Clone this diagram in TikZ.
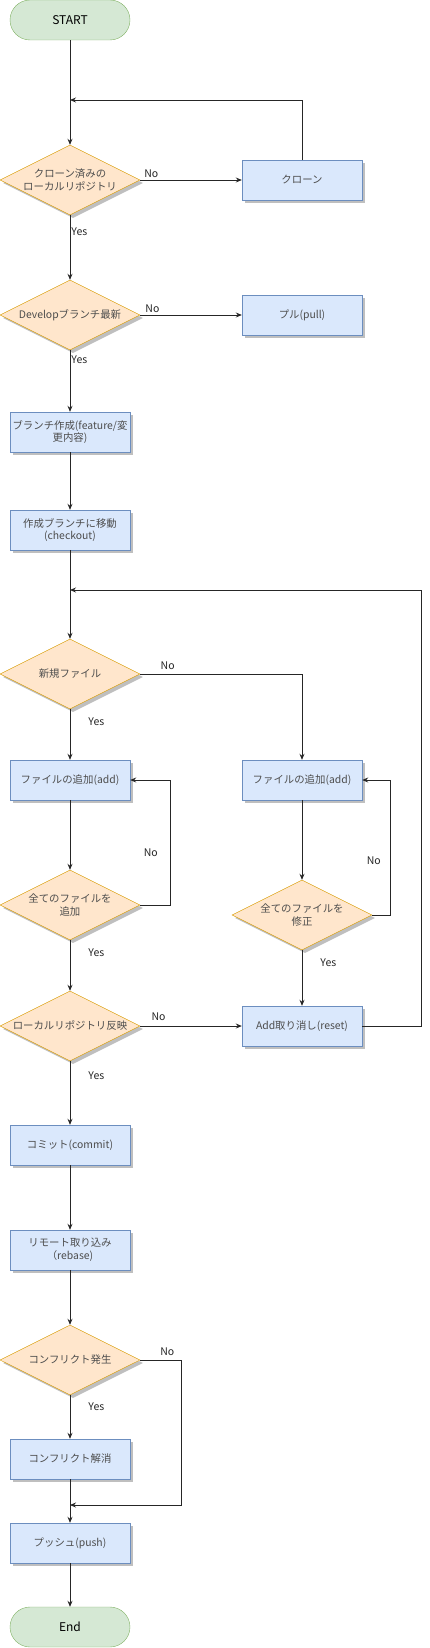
\documentclass[tikz,border=0pt]{standalone}
\usepackage{fontspec}
\setmainfont{Noto Sans CJK JP}
\usepackage{tikz}
\usetikzlibrary{arrows.meta,shapes.geometric,shadows}
\definecolor{termfill}{HTML}{D5E8D4}
\definecolor{termdraw}{HTML}{82B366}
\definecolor{procfill}{HTML}{DAE8FC}
\definecolor{procdraw}{HTML}{6C8EBF}
\definecolor{decfill}{HTML}{FFE6CC}
\definecolor{decdraw}{HTML}{D79B00}
\definecolor{txtgray}{HTML}{4D4D4D}
\tikzset{
    terminal/.style={draw=termdraw, fill=termfill, rounded corners=20pt,
        minimum width=120pt, minimum height=40pt, inner sep=0pt,
        font=\fontsize{12pt}{14pt}\selectfont},
    process/.style={draw=procdraw, fill=procfill, minimum width=120pt,
        minimum height=40pt, inner sep=1pt, align=center, text=txtgray,
        font=\fontsize{10.4pt}{12.5pt}\selectfont,
        drop shadow={shadow xshift=3pt, shadow yshift=-3pt, fill=black!25, opacity=1}},
    decision/.style={diamond, draw=decdraw, fill=decfill, minimum width=140pt,
        minimum height=70pt, inner sep=0pt,
        drop shadow={shadow xshift=3pt, shadow yshift=-3pt, fill=black!25, opacity=1}},
    dectext/.style={align=center, text=txtgray, inner sep=0pt,
        font=\fontsize{10.4pt}{12.5pt}\selectfont},
    flow/.style={draw=black!85, line width=0.9pt, -{Stealth[length=6pt,width=5pt]}},
    lbl/.style={inner sep=1pt, text=black!85, font=\fontsize{10.5pt}{12.5pt}\selectfont},
}
\begin{document}
\begin{tikzpicture}[x=1pt, y=-1pt]
		\useasboundingbox (0,0) rectangle (429,1648);
		% nodes
		\node[terminal] (start) at (70,20) {START};
		\node[decision, label={[dectext]center:クローン済みの\\ローカルリポジトリ}] (cloned) at (70,180) {};
		\node[process] (clone) at (302,180) {クローン};
		\node[decision, label={[dectext]center:Developブランチ最新}] (latest) at (70,315) {};
		\node[process] (pull) at (302,315) {プル(pull)};
		\node[process] (branch) at (70,432) {ブランチ作成(feature/変\\更内容)};
		\node[process] (checkout) at (70,530) {作成ブランチに移動\\(checkout)};
		\node[decision, label={[dectext]center:新規ファイル}] (newfile) at (70,674) {};
		\node[process] (addL) at (70,780) {ファイルの追加(add)};
		\node[process] (addR) at (302,780) {ファイルの追加(add)};
		\node[decision, label={[dectext]center:全てのファイルを\\追加}] (alladd) at (70,905) {};
		\node[decision, label={[dectext]center:全てのファイルを\\修正}] (allmod) at (302,915) {};
		\node[decision, label={[dectext]center:ローカルリポジトリ反映}] (local) at (70,1026) {};
		\node[process] (reset) at (302,1026) {Add取り消し(reset)};
		\node[process] (commit) at (70,1145) {コミット(commit)};
		\node[process] (rebase) at (70,1250) {リモート取り込み\\（rebase)};
		\node[decision, label={[dectext]center:コンフリクト発生}] (conflict) at (70,1360) {};
		\node[process] (resolve) at (70,1459) {コンフリクト解消};
		\node[process] (push) at (70,1543) {プッシュ(push)};
		\node[terminal] (end) at (70,1627) {End};
		%
		\coordinate (j1) at (70,100);
		\coordinate (j2) at (70,590);
		\coordinate (j3) at (70,1505);
		% connectors
		\draw[flow] (start) -- (cloned);
		\draw[flow] (cloned.east) -- node[lbl, pos=0.11, above=1pt] {No} (clone.west);
		\draw[flow] (clone.north) |- (j1);
		\draw[flow] (cloned.south) -- node[lbl, pos=0.25, right] {Yes} (latest.north);
		\draw[flow] (latest.east) -- node[lbl, pos=0.12, above=1pt] {No} (pull.west);
		\draw[flow] (latest.south) -- node[lbl, pos=0.16, right] {Yes} (branch.north);
		\draw[flow] (branch) -- (checkout);
		\draw[flow] (checkout) -- (newfile);
		\draw[flow] (newfile.east) -| node[lbl, pos=0.085, above=3pt] {No} (addR.north);
		\draw[flow] (newfile.south) -- node[lbl, pos=0.25, right=17pt] {Yes} (addL.north);
		\draw[flow] (addL) -- (alladd);
		\draw[flow] (alladd.east) -- ++(30,0) |- node[lbl, pos=0.21, left=11pt] {No} (addL.east);
		\draw[flow] (addR) -- (allmod);
		\draw[flow] (allmod.east) -- ++(18,0) |- node[lbl, pos=0.2, left=8pt] {No} (addR.east);
		\draw[flow] (allmod.south) -- node[lbl, pos=0.22, right=17pt] {Yes} (reset.north);
		\draw[flow] (alladd.south) -- node[lbl, pos=0.24, right=17pt] {Yes} (local.north);
		\draw[flow] (local.east) -- node[lbl, pos=0.18, above=4pt] {No} (reset.west);
		\draw[flow] (reset.east) -- ++(59,0) |- (j2);
		\draw[flow] (local.south) -- node[lbl, pos=0.23, right=17pt] {Yes} (commit.north);
		\draw[flow] (commit) -- (rebase);
		\draw[flow] (rebase) -- (conflict);
		\draw[flow] (conflict.south) -- node[lbl, pos=0.27, right=17pt] {Yes} (resolve.north);
		\draw[flow] (conflict.east) -- node[lbl, pos=0.66, above=3pt] {No} ++(41,0) |- (j3);
		\draw[flow] (resolve) -- (push);
		\draw[flow] (push) -- (end);
	\end{tikzpicture}
\end{document}
